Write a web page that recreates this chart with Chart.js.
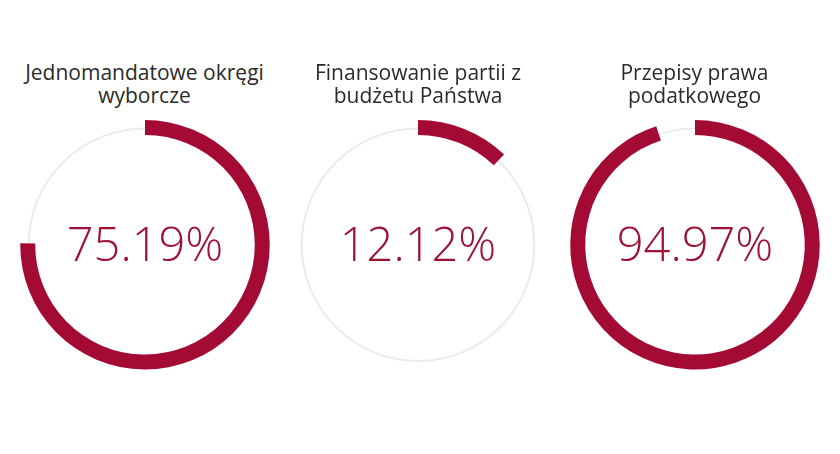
<!DOCTYPE html>
<html>
<head>
<meta charset="utf-8">
<script src="https://cdn.jsdelivr.net/npm/chart.js@4"></script>
<style>
  html, body { margin: 0; padding: 0; background: #ffffff; }
  body { width: 840px; height: 454px; position: relative; overflow: hidden; font-family: "Open Sans", sans-serif; }
  .cell { position: absolute; top: 0; width: 280px; height: 454px; }
  .title { position: absolute; left: -20px; right: -20px; top: 61px; text-align: center; font-size: 21px; line-height: 23px; color: #2b2b2b; }
  canvas { position: absolute; left: 0; top: 0; }
</style>
</head>
<body>
<script>
const categories = [
  ["Jednomandatowe okręgi", "wyborcze"],
  ["Finansowanie partii z", "budżetu Państwa"],
  ["Przepisy prawa", "podatkowego"]
];
const values = [75.19, 12.12, 94.97];
const centersX = [144.5, 418, 694.5];

const RED = "#a30b35";
const TEXT_RED = "#9e1236";

const ringPlugin = {
  id: "ring",
  beforeDatasetsDraw(chart) {
    const arc = chart.getDatasetMeta(0).data[0];
    if (!arc) return;
    const ctx = chart.ctx;
    const r = (arc.innerRadius + arc.outerRadius) / 2 - 1;
    ctx.save();
    ctx.beginPath();
    ctx.arc(arc.x, arc.y, r, 0, Math.PI * 2);
    ctx.strokeStyle = "#ebebeb";
    ctx.lineWidth = 2;
    ctx.stroke();
    ctx.restore();
  },
  afterDraw(chart) {
    const arc = chart.getDatasetMeta(0).data[0];
    if (!arc) return;
    const ctx = chart.ctx;
    const v = chart.data.datasets[0].data[0];
    ctx.save();
    ctx.font = '300 47px "Open Sans"';
    ctx.fillStyle = TEXT_RED;
    ctx.textAlign = "center";
    ctx.textBaseline = "middle";
    ctx.fillText(v.toFixed(2) + "%", arc.x, arc.y + 3);
    ctx.restore();
  }
};

categories.forEach((lines, i) => {
  const cell = document.createElement("div");
  cell.className = "cell";
  cell.style.left = (centersX[i] - 140) + "px";
  const t = document.createElement("div");
  t.className = "title";
  t.innerHTML = lines.join("<br>");
  cell.appendChild(t);
  const cv = document.createElement("canvas");
  cv.width = 280; cv.height = 454;
  cv.style.width = "280px"; cv.style.height = "454px";
  cell.appendChild(cv);
  document.body.appendChild(cell);

  new Chart(cv, {
    type: "doughnut",
    data: {
      labels: ["wartość", "reszta"],
      datasets: [{
        data: [values[i], 100 - values[i]],
        backgroundColor: [RED, "rgba(0,0,0,0)"],
        borderWidth: 0
      }]
    },
    options: {
      responsive: false,
      animation: false,
      cutout: "88%",
      layout: { padding: { top: 120, bottom: 84.5, left: 0, right: 0 } },
      plugins: { legend: { display: false }, tooltip: { enabled: false }, title: { display: false } },
      events: []
    },
    plugins: [ringPlugin]
  });
});
</script>
</body>
</html>
